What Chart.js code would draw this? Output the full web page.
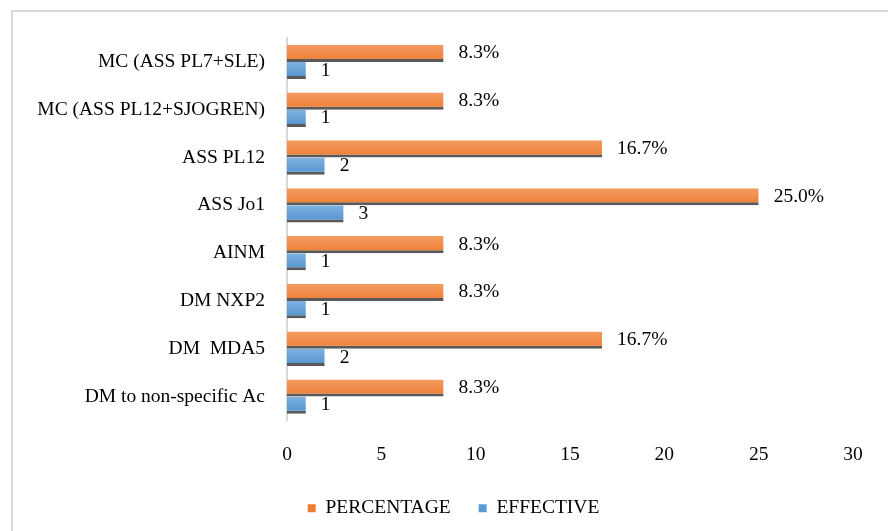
<!DOCTYPE html>
<html>
<head>
<meta charset="utf-8">
<script src="https://cdn.jsdelivr.net/npm/chart.js@4/dist/chart.umd.min.js"></script>
<style>
  html, body { margin: 0; padding: 0; background: #ffffff; }
  #wrap { position: relative; width: 888px; height: 531px; }
</style>
</head>
<body>
<div id="wrap"><canvas id="chart" width="888" height="531"></canvas></div>
<script>
// Antibody profile groups, listed top to bottom
const categories = [
  'MC (ASS PL7+SLE)',
  'MC (ASS PL12+SJOGREN)',
  'ASS PL12',
  'ASS Jo1',
  'AINM',
  'DM NXP2',
  'DM  MDA5',
  'DM to non-specific Ac'
];
const percentage = [8.3, 8.3, 16.7, 25.0, 8.3, 8.3, 16.7, 8.3];
const effective = [1, 1, 2, 3, 1, 1, 2, 1];
const xTicks = [0, 5, 10, 15, 20, 25, 30];

const FONT = "'Liberation Serif', 'Times New Roman', serif";
const FONT_SIZE = 19.5;
const CAT_PCT = 0.72;

// vertical gradient spanning a bar's height, lighter at the top
function barFill(light, base) {
  return function (context) {
    const chart = context.chart;
    const y = chart.scales && chart.scales.y;
    if (!y || context.dataIndex === undefined || !isFinite(y.height)) return base;
    const c = y.getPixelForValue(context.dataIndex);
    const h = (y.height / categories.length) * CAT_PCT / 2;
    const top = context.datasetIndex === 0 ? c - h : c;
    const g = chart.ctx.createLinearGradient(0, top, 0, top + h);
    g.addColorStop(0, light);
    g.addColorStop(1, base);
    return g;
  };
}

// light frame around the chart
const framePlugin = {
  id: 'frame',
  beforeDraw(chart) {
    const ctx = chart.ctx;
    ctx.save();
    ctx.strokeStyle = '#d9d9d9';
    ctx.lineWidth = 2;
    ctx.strokeRect(12, 11, 900, 540);
    ctx.restore();
  }
};

// centre the legend under the whole frame rather than the padded width
const legendShift = {
  id: 'legendShift',
  afterLayout(chart) {
    const lg = chart.legend;
    if (lg) { lg.left += 27; lg.right += 27; }
  }
};

// value labels at the end of each bar
const valueLabels = {
  id: 'valueLabels',
  afterDatasetsDraw(chart) {
    const ctx = chart.ctx;
    ctx.save();
    ctx.font = FONT_SIZE + 'px ' + FONT;
    ctx.fillStyle = '#000000';
    ctx.textAlign = 'left';
    ctx.textBaseline = 'middle';
    chart.data.datasets.forEach((ds, di) => {
      const meta = chart.getDatasetMeta(di);
      meta.data.forEach((bar, i) => {
        const v = ds.data[i];
        const txt = di === 0 ? v.toFixed(1) + '%' : String(v);
        ctx.fillText(txt, bar.x + 15, bar.y);
      });
    });
    ctx.restore();
  }
};

new Chart(document.getElementById('chart'), {
  type: 'bar',
  data: {
    labels: categories,
    datasets: [
      {
        label: 'PERCENTAGE',
        data: percentage,
        backgroundColor: barFill('#f59b62', '#ed7d31'),
        borderColor: '#595959',
        borderWidth: { top: 0, left: 0, right: 0, bottom: 3 },
        borderSkipped: false,
        categoryPercentage: CAT_PCT,
        barPercentage: 1.0
      },
      {
        label: 'EFFECTIVE',
        data: effective,
        backgroundColor: barFill('#7fb2e0', '#5091cf'),
        borderColor: '#595959',
        borderWidth: { top: 0, left: 0, right: 0, bottom: 3 },
        borderSkipped: false,
        categoryPercentage: CAT_PCT,
        barPercentage: 1.0
      }
    ]
  },
  options: {
    indexAxis: 'y',
    responsive: false,
    animation: false,
    layout: { padding: { top: 38, right: 35, bottom: 3, left: 0 } },
    scales: {
      x: {
        min: 0,
        max: 30,
        afterBuildTicks(scale) {
          scale.ticks = xTicks.map(v => ({ value: v }));
        },
        grid: { display: false, drawTicks: false },
        border: { display: false },
        ticks: {
          padding: 23,
          color: '#000000',
          font: { family: FONT, size: FONT_SIZE }
        },
        afterFit(scale) { scale.height = 50; }
      },
      y: {
        grid: { display: false, drawTicks: false },
        border: { display: true, color: '#d9d9d9', width: 2 },
        ticks: {
          padding: 22,
          autoSkip: false,
          color: '#000000',
          font: { family: FONT, size: FONT_SIZE }
        },
        afterFit(scale) { scale.width = 287; }
      }
    },
    plugins: {
      legend: {
        position: 'bottom',
        labels: {
          boxWidth: 8,
          boxHeight: 8,
          padding: 28,
          color: '#000000',
          font: { family: FONT, size: FONT_SIZE },
          generateLabels(chart) {
            const fills = ['#ed7d31', '#5b9bd5'];
            return chart.data.datasets.map((ds, i) => ({
              text: ds.label,
              fillStyle: fills[i],
              strokeStyle: fills[i],
              lineWidth: 0,
              hidden: false,
              datasetIndex: i,
              fontColor: '#000000'
            }));
          }
        }
      },
      tooltip: { enabled: false }
    }
  },
  plugins: [framePlugin, legendShift, valueLabels]
});
</script>
</body>
</html>
